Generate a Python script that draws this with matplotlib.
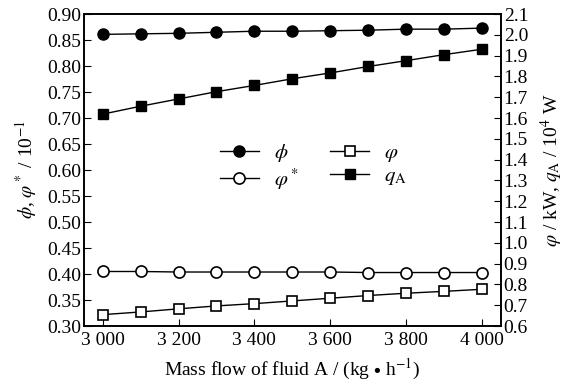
import matplotlib
matplotlib.use("Agg")
import matplotlib.pyplot as plt

plt.rcParams['font.family'] = ['Liberation Serif', 'DejaVu Serif']
plt.rcParams['mathtext.fontset'] = 'stix'

flow = [3000, 3100, 3200, 3300, 3400, 3500, 3600, 3700, 3800, 3900, 4000]
phi = [0.861, 0.862, 0.863, 0.865, 0.867, 0.867, 0.868, 0.869, 0.871, 0.871, 0.873]
varphi_star = [0.405, 0.405, 0.404, 0.404, 0.404, 0.404, 0.404, 0.403, 0.403, 0.403, 0.403]
varphi = [0.655, 0.668, 0.683, 0.697, 0.708, 0.721, 0.734, 0.747, 0.758, 0.767, 0.777]
q_A = [1.619, 1.657, 1.692, 1.727, 1.757, 1.789, 1.817, 1.848, 1.876, 1.905, 1.931]

x_ticks = [3000, 3200, 3400, 3600, 3800, 4000]
x_labels = ['3 000', '3 200', '3 400', '3 600', '3 800', '4 000']
left_ticks = [0.30, 0.35, 0.40, 0.45, 0.50, 0.55, 0.60, 0.65, 0.70, 0.75, 0.80, 0.85, 0.90]
right_ticks = [0.6, 0.7, 0.8, 0.9, 1.0, 1.1, 1.2, 1.3, 1.4, 1.5, 1.6, 1.7, 1.8, 1.9, 2.0, 2.1]

fig = plt.figure(figsize=(5.66, 3.91), dpi=100)
ax = fig.add_axes([0.148, 0.166, 0.737, 0.798])
ax2 = ax.twinx()

lw = 1.0
h1, = ax.plot(flow, phi, '-o', color='black', mfc='black', mec='black', ms=8, lw=lw,
              label=r'$\phi$')
h2, = ax.plot(flow, varphi_star, '-o', color='black', mfc='white', mec='black', ms=8,
              mew=1.2, lw=lw, label=r'$\varphi^*$')
h3, = ax2.plot(flow, varphi, '-s', color='black', mfc='white', mec='black', ms=7,
               mew=1.2, lw=lw, label=r'$\varphi$')
h4, = ax2.plot(flow, q_A, '-s', color='black', mfc='black', mec='black', ms=7, lw=lw,
               label=r'$q_{\mathrm{A}}$')

ax.set_xlim(2950, 4050)
ax.set_ylim(0.30, 0.90)
ax2.set_ylim(0.6, 2.1)

ax.set_xticks(x_ticks)
ax.set_xticklabels(x_labels)
ax.set_yticks(left_ticks)
ax.set_yticklabels(['%.2f' % v for v in left_ticks])
ax2.set_yticks(right_ticks)
ax2.set_yticklabels(['%.1f' % v for v in right_ticks])

ax.tick_params(axis='x', direction='in', length=5, labelsize=14, top=False, pad=4)
ax.tick_params(axis='y', direction='in', length=5, labelsize=14, right=False, pad=2)
ax2.tick_params(axis='y', direction='in', length=5, labelsize=14, pad=2)

for a in (ax, ax2):
    for s in a.spines.values():
        s.set_linewidth(1.2)

ax.set_xlabel(r'Mass flow of fluid A / (kg $\bullet$ h$^{-1}$)', fontsize=14, labelpad=6)
ax.set_ylabel(r'$\phi$, $\varphi^*$ / 10$^{-1}$', fontsize=14, labelpad=6)
ax2.set_ylabel(r'$\varphi$ / kW, $q_{\mathrm{A}}$ / 10$^4$ W', fontsize=14, labelpad=8)

leg = ax2.legend(handles=[h1, h2, h3, h4], ncol=2, loc='center', bbox_to_anchor=(0.55, 0.51),
                 frameon=False, fontsize=15, handlelength=1.9, columnspacing=1.5,
                 handletextpad=0.7, labelspacing=0.1)

fig.savefig('out.png', dpi=100)
